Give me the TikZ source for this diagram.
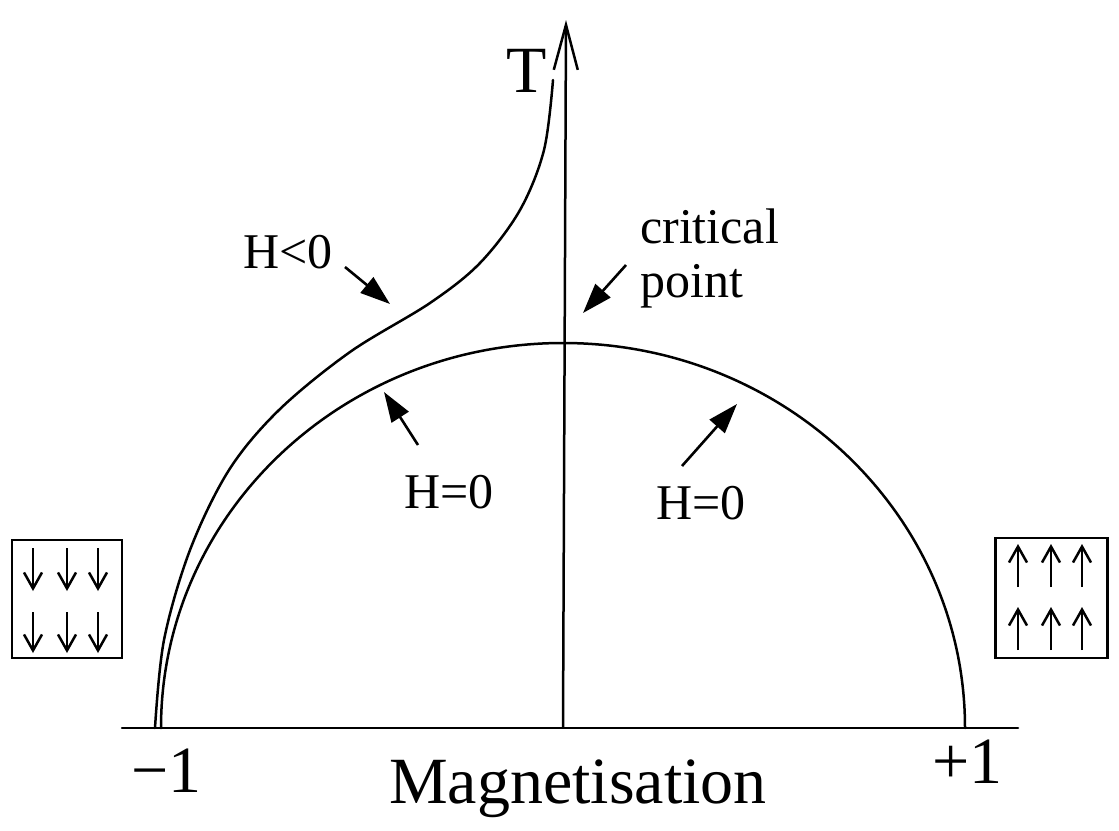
\documentclass[tikz,border=0pt]{standalone}
\usepackage{fontspec}
\setmainfont{Liberation Serif}
\usetikzlibrary{arrows.meta}
\tikzset{
  line/.style={line width=2.5pt, line cap=round, line join=round},
  pointer/.style={line width=2.6pt, -{Triangle[length=30pt,width=20pt]}},
  spin/.style={line width=2.5pt, -{Straight Barb[length=16pt,width=18pt,line width=2.5pt]}},
  lbl/.style={inner sep=0pt, anchor=base west, font=\fontsize{50}{57}\selectfont},
  big/.style={inner sep=0pt, anchor=base west, font=\fontsize{66}{70}\selectfont},
  spinbox/.style={draw, line width=2.5pt, inner sep=0pt}
}
\begin{document}
\begin{tikzpicture}[x=1pt,y=-1pt]
\useasboundingbox (0,0) rectangle (1119,830);
% axes
\coordinate (xl) at (122,728);
\coordinate (xr) at (1018,728);
\coordinate (o) at (563,728);
\coordinate (ytop) at (566,20);
\draw[line] (xl) -- (xr);
\draw[line width=2.5pt, -{Straight Barb[length=45pt,width=24pt,line width=2.5pt]}] (o) -- (ytop);
% H=0 semicircle
\draw[line] (161,728) arc[start angle=180, end angle=360, x radius=402, y radius=385];
% H<0 curve
\draw[line] plot[smooth, tension=0.55] coordinates {
 (155,728) (164,640) (190,550) (229,470) (279,410) (350,352)
 (430,303) (480,263) (520,210) (544,150) (553,80)};
% labels
\node[big] (T) at (506,92) {T};
\node[big] (m1) at (131,792) {−1};
\node[big] (p1) at (932,783) {+1};
\node[big] (mag) at (389,803) {Magnetisation};
\node[lbl] (hneg) at (243,268) {H<0};
\node[lbl] (crit) at (640,243) {critical};
\node[lbl] (pt) at (640,297) {point};
\node[lbl] (h0l) at (404,508) {H=0};
\node[lbl] (h0r) at (656,519) {H=0};
% pointer arrows
\coordinate (a1s) at (345,267); \coordinate (a1e) at (390,304);
\coordinate (a2s) at (626,265); \coordinate (a2e) at (583,313);
\coordinate (a3s) at (418,445); \coordinate (a3e) at (384,392);
\coordinate (a4s) at (682,466); \coordinate (a4e) at (737,404);
\draw[pointer] (a1s) -- (a1e);
\draw[pointer] (a2s) -- (a2e);
\draw[pointer] (a3s) -- (a3e);
\draw[pointer] (a4s) -- (a4e);
% spin boxes
\node[spinbox, minimum width=110pt, minimum height=118pt] (down) at (67,599) {};
\node[spinbox, minimum width=112pt, minimum height=120pt] (up) at (1051.5,598) {};
\foreach \x in {33,67,98}{
  \draw[spin] (\x,548) -- (\x,591);
  \draw[spin] (\x,612) -- (\x,653);
}
\foreach \x in {1018,1051,1082}{
  \draw[spin] (\x,587) -- (\x,544);
  \draw[spin] (\x,650) -- (\x,607);
}
\end{tikzpicture}
\end{document}
